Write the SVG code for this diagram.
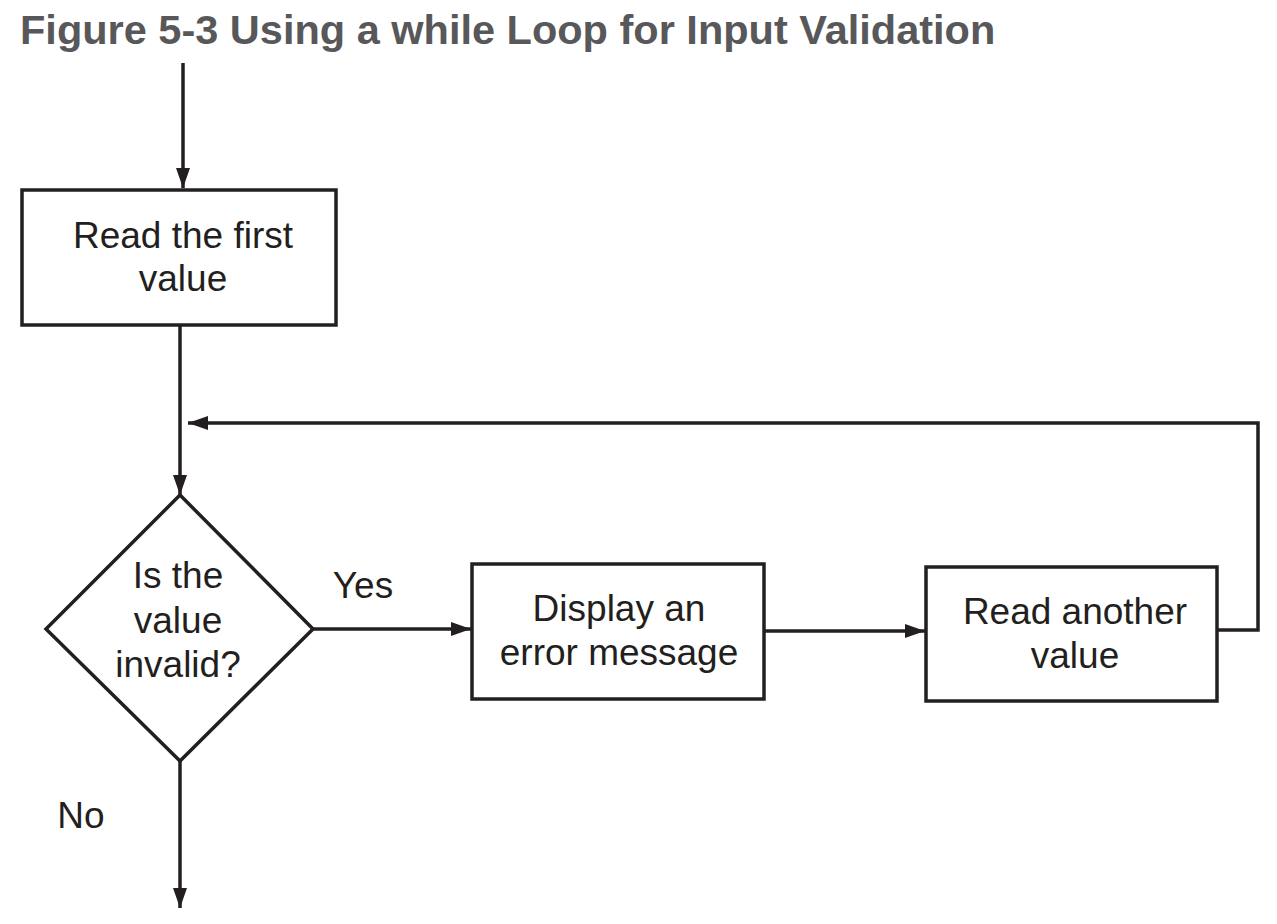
<svg xmlns="http://www.w3.org/2000/svg" width="1277" height="924" viewBox="0 0 1277 924">
<defs>
<style>
.shape{fill:#fff;stroke:#231f20;stroke-width:3.5}
.line{fill:none;stroke:#231f20;stroke-width:3.5}
.lbl{font-family:"Liberation Sans",Arial,Helvetica,sans-serif;font-size:37px;fill:#231f20;text-anchor:middle}
.title{font-family:"Liberation Sans",Arial,Helvetica,sans-serif;font-size:41.5px;font-weight:bold;fill:#58585a}
</style>
<marker id="arr" viewBox="0 0 20 14" refX="20" refY="7" markerWidth="20" markerHeight="14" markerUnits="userSpaceOnUse" orient="auto">
<path d="M0,0 L20,7 L0,14 Z" fill="#231f20"/>
</marker>
</defs>
<rect width="1277" height="924" fill="#fff"/>
<text class="title" x="20" y="44">Figure 5-3 Using a while Loop for Input Validation</text>
<g id="connectors">
<line class="line" x1="183" y1="63" x2="183" y2="188" marker-end="url(#arr)"/>
<line class="line" x1="180" y1="326" x2="180" y2="495" marker-end="url(#arr)"/>
<line class="line" x1="313" y1="629" x2="471" y2="629" marker-end="url(#arr)"/>
<line class="line" x1="764" y1="631" x2="925" y2="631" marker-end="url(#arr)"/>
<polyline class="line" points="1217,630 1258,630 1258,423 188,423" marker-end="url(#arr)"/>
<line class="line" x1="180" y1="761" x2="180" y2="908" marker-end="url(#arr)"/>
<text class="lbl" x="363" y="598">Yes</text>
<text class="lbl" x="81" y="828">No</text>
</g>
<g id="read-first">
<rect class="shape" x="22" y="190" width="314" height="135"/>
<text class="lbl" x="183" y="248">Read the first</text>
<text class="lbl" x="183" y="291">value</text>
</g>
<g id="decision">
<polygon class="shape" points="180,495 313,629 180,761 46,629"/>
<text class="lbl" x="178" y="588">Is the</text>
<text class="lbl" x="178" y="633">value</text>
<text class="lbl" x="178" y="677">invalid?</text>
</g>
<g id="display-error">
<rect class="shape" x="472" y="564" width="292" height="135"/>
<text class="lbl" x="619" y="621">Display an</text>
<text class="lbl" x="619" y="665">error message</text>
</g>
<g id="read-another">
<rect class="shape" x="926" y="567" width="291" height="134"/>
<text class="lbl" x="1075" y="624">Read another</text>
<text class="lbl" x="1075" y="668">value</text>
</g>
</svg>
